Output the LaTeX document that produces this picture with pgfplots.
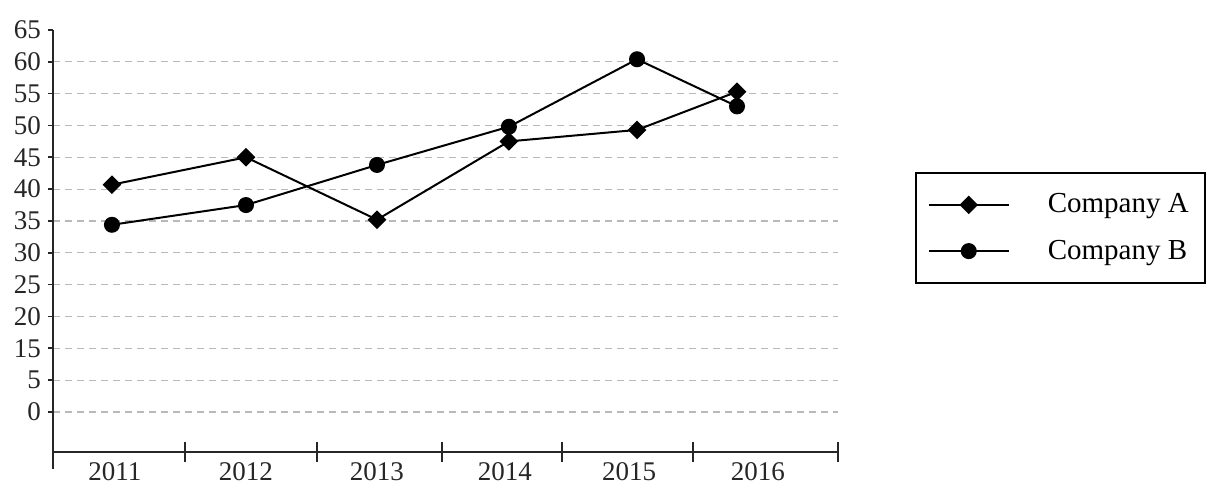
\documentclass[border=0pt]{standalone}
\usepackage{fontspec}
\setmainfont{Liberation Serif}
\usepackage{pgfplots}
\pgfplotsset{compat=1.18}
\begin{document}
\begin{tikzpicture}
\useasboundingbox (-26.5pt,-19.5pt) rectangle (578pt,226pt);
\begin{axis}[
  scale only axis,
  width=392.5pt, height=211pt,
  xmin=-0.45, xmax=5.542,
  ymin=-6.29, ymax=60,
  clip=false,
  axis x line=bottom, axis y line=left,
  axis line style={-, line width=1pt, black!85},
  y axis line style={shorten <=-8.5pt},
  /pgf/number format/assume math mode=true,
  tick label style={font=\fontsize{13.5}{16}\selectfont, text=black!85},
  xtick={0.023,1.023,2.023,3.0,3.947,4.931},
  xticklabels={2011,2012,2013,2014,2015,2016},
  x tick label style={yshift=1pt},
  xtick style={draw=none},
  extra x ticks={0.557,1.565,2.519,3.435,4.435,5.542},
  extra x tick labels={},
  extra x tick style={tick align=center, major tick length=10pt, xtick style={draw=black!85, line width=1pt}},
  ytick={0,5,10,15,20,25,30,35,40,45,50,55},
  yticklabels={0,5,15,20,25,30,35,40,45,50,55,60},
  extra y ticks={60},
  extra y tick labels={65},
  extra y tick style={grid=none},
  tick align=outside,
  major tick length=2.5pt,
  ytick style={black!85, line width=0.8pt},
  ymajorgrids,
  grid style={gray!55, dash pattern=on 3.5pt off 2.5pt, line width=0.6pt},
  y filter/.expression={y-5},
  legend style={at={(1.098,0.6635)}, anchor=north west, draw=black, line width=0.8pt,
    font=\fontsize{14.5}{17}\selectfont, inner xsep=6pt, inner ysep=8.5pt, row sep=8pt,
    column sep=17pt},
  legend cell align=left,
  legend image code/.code={\draw[#1,mark repeat=2,mark phase=2] plot coordinates {(0pt,0pt) (20pt,0pt) (40pt,0pt)};},
]
\addplot[black, line width=1pt, mark=square*, mark size=2.8pt, mark options={solid, fill=black, rotate=45}]
  coordinates {(0,40.7) (1.023,45.0) (2.023,35.2) (3.03,47.5) (4.008,49.3) (4.771,55.3)};
\addlegendentry{Company A}
\addplot[black, line width=1pt, mark=*, mark size=3.5pt, mark options={solid, fill=black}]
  coordinates {(0,34.4) (1.023,37.5) (2.023,43.8) (3.03,49.8) (4.008,60.4) (4.771,53.0)};
\addlegendentry{Company B}
\end{axis}
\end{tikzpicture}
\end{document}
